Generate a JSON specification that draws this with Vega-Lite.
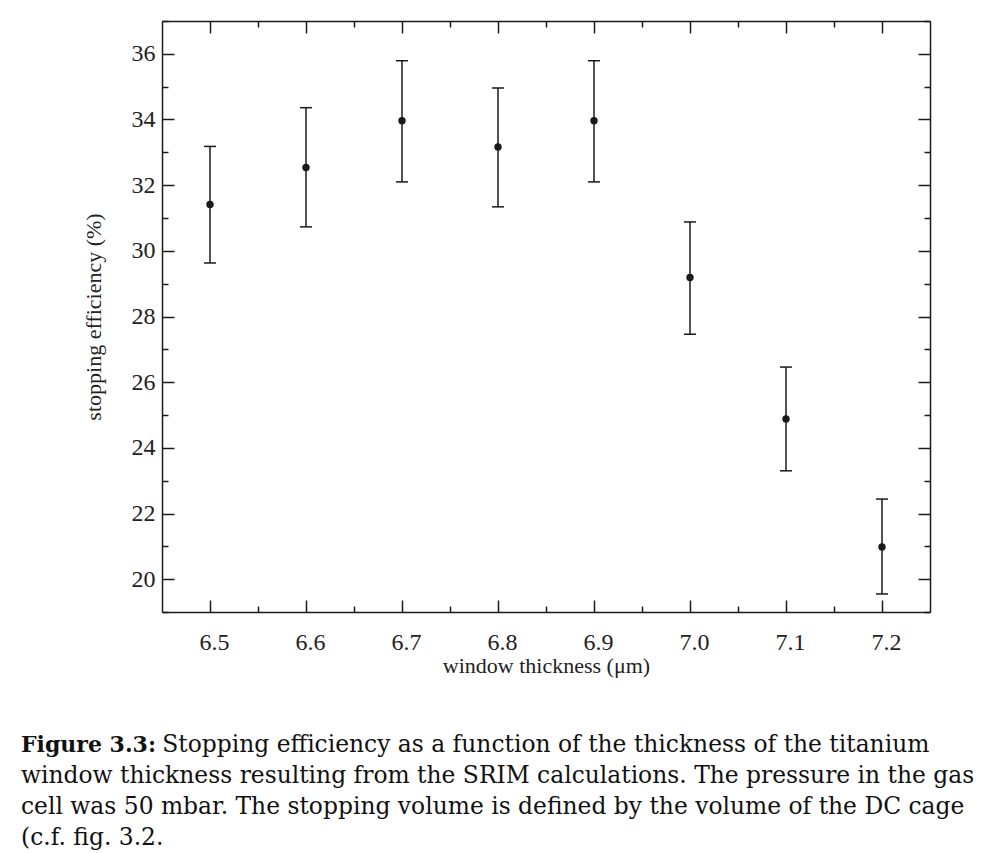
{
  "$schema": "https://vega.github.io/schema/vega-lite/v6.json",
  "width": 768,
  "height": 591,
  "autosize": {"type": "none"},
  "padding": {"left": 162, "top": 21, "right": 65, "bottom": 241},
  "background": "white",
  "data": {
    "values": [
      {"t": 6.5, "val": 31.41, "lo": 29.63, "hi": 33.18},
      {"t": 6.6, "val": 32.54, "lo": 30.73, "hi": 34.36},
      {"t": 6.7, "val": 33.96, "lo": 32.10, "hi": 35.79},
      {"t": 6.8, "val": 33.16, "lo": 31.34, "hi": 34.96},
      {"t": 6.9, "val": 33.96, "lo": 32.10, "hi": 35.79},
      {"t": 7.0, "val": 29.19, "lo": 27.46, "hi": 30.88},
      {"t": 7.1, "val": 24.88, "lo": 23.30, "hi": 26.46},
      {"t": 7.2, "val": 20.98, "lo": 19.55, "hi": 22.44}
    ]
  },
  "title": {
    "text": "Figure 3.3:",
    "subtitle": [
      "\u200b\u00a0\u00a0\u00a0\u00a0\u00a0\u00a0\u00a0\u00a0\u00a0\u00a0\u00a0\u00a0\u00a0\u00a0\u00a0\u00a0\u00a0\u00a0\u00a0Stopping efficiency as a function of the thickness of the titanium",
      "window thickness resulting from the SRIM calculations. The pressure in the gas",
      "cell was 50 mbar. The stopping volume is defined by the volume of the DC cage",
      "(c.f. fig. 3.2."
    ],
    "orient": "bottom",
    "anchor": "start",
    "frame": "group",
    "dx": -141,
    "offset": 59,
    "font": "DejaVu Serif",
    "fontSize": 22,
    "fontWeight": "bold",
    "color": "#111111",
    "subtitleFont": "DejaVu Serif",
    "subtitleFontSize": 23.4,
    "subtitleFontWeight": "normal",
    "subtitleColor": "#111111",
    "subtitleLineHeight": 31,
    "subtitlePadding": -23
  },
  "resolve": {"axis": {"x": "independent", "y": "independent"}},
  "layer": [
    {
      "mark": {"type": "rule", "strokeWidth": 1.5, "color": "#1a1a1a"},
      "encoding": {
        "x": {
          "field": "t", "type": "quantitative",
          "scale": {"domain": [6.45, 7.25], "nice": false, "zero": false},
          "axis": {
            "orient": "bottom",
            "values": [6.5, 6.6, 6.7, 6.8, 6.9, 7.0, 7.1, 7.2],
            "format": ".1f",
            "grid": false,
            "tickSize": -12, "tickWidth": 1.5, "tickColor": "#1a1a1a",
            "domain": true, "domainColor": "#1a1a1a", "domainWidth": 1.5,
            "labelFont": "Liberation Serif", "labelFontSize": 24, "labelColor": "#222222",
            "labelPadding": 30, "labelOffset": 4, "labelFlush": false, "labelOverlap": false,
            "title": "window thickness (μm)",
            "titleFont": "Liberation Serif", "titleFontSize": 22, "titleFontWeight": "normal",
            "titleColor": "#222222", "titlePadding": 1
          }
        },
        "y": {
          "field": "lo", "type": "quantitative",
          "scale": {"domain": [19, 37], "nice": false, "zero": false},
          "axis": {
            "orient": "left",
            "values": [20, 22, 24, 26, 28, 30, 32, 34, 36],
            "grid": false,
            "tickSize": -12, "tickWidth": 1.5, "tickColor": "#1a1a1a",
            "domain": true, "domainColor": "#1a1a1a", "domainWidth": 1.5,
            "labelFont": "Liberation Serif", "labelFontSize": 24, "labelColor": "#222222",
            "labelPadding": 19, "labelFlush": false, "labelOverlap": false,
            "title": "stopping efficiency (%)",
            "titleFont": "Liberation Serif", "titleFontSize": 22, "titleFontWeight": "normal",
            "titleColor": "#222222", "titlePadding": 26
          }
        },
        "y2": {"field": "hi"}
      }
    },
    {
      "mark": {"type": "tick", "orient": "horizontal", "size": 12, "thickness": 1.5, "color": "#1a1a1a", "opacity": 1},
      "encoding": {
        "x": {"field": "t", "type": "quantitative", "scale": {"domain": [6.45, 7.25], "nice": false, "zero": false}, "axis": null},
        "y": {"field": "lo", "type": "quantitative", "scale": {"domain": [19, 37], "nice": false, "zero": false}, "axis": null}
      }
    },
    {
      "mark": {"type": "tick", "orient": "horizontal", "size": 12, "thickness": 1.5, "color": "#1a1a1a", "opacity": 1},
      "encoding": {
        "x": {"field": "t", "type": "quantitative", "scale": {"domain": [6.45, 7.25], "nice": false, "zero": false}, "axis": null},
        "y": {"field": "hi", "type": "quantitative", "scale": {"domain": [19, 37], "nice": false, "zero": false}, "axis": null}
      }
    },
    {
      "mark": {"type": "circle", "size": 55, "color": "#1a1a1a", "opacity": 1},
      "encoding": {
        "x": {"field": "t", "type": "quantitative", "scale": {"domain": [6.45, 7.25], "nice": false, "zero": false}, "axis": null},
        "y": {"field": "val", "type": "quantitative", "scale": {"domain": [19, 37], "nice": false, "zero": false}, "axis": null}
      }
    },
    {
      "mark": {"type": "point", "opacity": 0},
      "encoding": {
        "x": {
          "field": "t", "type": "quantitative",
          "scale": {"domain": [6.45, 7.25], "nice": false, "zero": false},
          "axis": {
            "orient": "bottom", "values": [6.55, 6.65, 6.75, 6.85, 6.95, 7.05, 7.15],
            "labels": false, "title": null, "grid": false, "domain": false,
            "tickSize": -6, "tickWidth": 1.5, "tickColor": "#1a1a1a"
          }
        },
        "y": {
          "field": "val", "type": "quantitative",
          "scale": {"domain": [19, 37], "nice": false, "zero": false},
          "axis": {
            "orient": "left", "values": [19, 21, 23, 25, 27, 29, 31, 33, 35, 37],
            "labels": false, "title": null, "grid": false, "domain": false,
            "tickSize": -6, "tickWidth": 1.5, "tickColor": "#1a1a1a"
          }
        }
      }
    },
    {
      "mark": {"type": "point", "opacity": 0},
      "encoding": {
        "x": {
          "field": "t", "type": "quantitative",
          "scale": {"domain": [6.45, 7.25], "nice": false, "zero": false},
          "axis": {
            "orient": "top", "values": [6.5, 6.6, 6.7, 6.8, 6.9, 7.0, 7.1, 7.2],
            "labels": false, "title": null, "grid": false,
            "domain": true, "domainColor": "#1a1a1a", "domainWidth": 1.5,
            "tickSize": -12, "tickWidth": 1.5, "tickColor": "#1a1a1a"
          }
        },
        "y": {
          "field": "val", "type": "quantitative",
          "scale": {"domain": [19, 37], "nice": false, "zero": false},
          "axis": {
            "orient": "right", "values": [20, 22, 24, 26, 28, 30, 32, 34, 36],
            "labels": false, "title": null, "grid": false,
            "domain": true, "domainColor": "#1a1a1a", "domainWidth": 1.5,
            "tickSize": -12, "tickWidth": 1.5, "tickColor": "#1a1a1a"
          }
        }
      }
    },
    {
      "mark": {"type": "point", "opacity": 0},
      "encoding": {
        "x": {
          "field": "t", "type": "quantitative",
          "scale": {"domain": [6.45, 7.25], "nice": false, "zero": false},
          "axis": {
            "orient": "top", "values": [6.55, 6.65, 6.75, 6.85, 6.95, 7.05, 7.15],
            "labels": false, "title": null, "grid": false, "domain": false,
            "tickSize": -6, "tickWidth": 1.5, "tickColor": "#1a1a1a"
          }
        },
        "y": {
          "field": "val", "type": "quantitative",
          "scale": {"domain": [19, 37], "nice": false, "zero": false},
          "axis": {
            "orient": "right", "values": [19, 21, 23, 25, 27, 29, 31, 33, 35, 37],
            "labels": false, "title": null, "grid": false, "domain": false,
            "tickSize": -6, "tickWidth": 1.5, "tickColor": "#1a1a1a"
          }
        }
      }
    }
  ],
  "config": {"view": {"stroke": null}}
}
